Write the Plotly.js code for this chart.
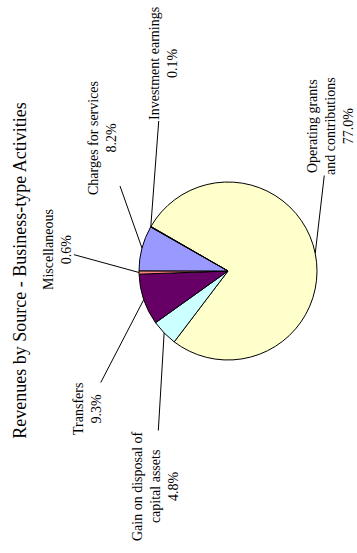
<!DOCTYPE html>
<html>
<head>
<meta charset="utf-8">
<script src="https://cdn.plot.ly/plotly-3.0.1.min.js"></script>
<style>
  html, body { margin: 0; padding: 0; background: #ffffff; overflow: hidden; }
  #wrap { position: absolute; left: 0; top: 0; width: 553px; height: 357px;
          transform-origin: 0 0; transform: translate(0px, 553px) rotate(-90deg); }
</style>
</head>
<body>
<div id="wrap"></div>
<script>
// ---- data ----
const categories = ["Operating grants and contributions", "Gain on disposal of capital assets", "Transfers", "Miscellaneous", "Charges for services", "Investment earnings"];
const displayLabels = ["Operating grants<br>and contributions", "Gain on disposal of<br>capital assets", "Transfers", "Miscellaneous", "Charges for services", "Investment earnings"];
const shares = [77.0, 4.8, 9.3, 0.6, 8.2, 0.1];
const sliceColors = ["#FFFFCC", "#CCFFFF", "#660066", "#FF8080", "#9999FF", "#993366"];
// label centres in the (unrotated) layout, pixels
const labelU = [427, 67, 144, 303, 415, 489];
const labelV = [330, 155, 87, 57, 103, 163];

// ---- layout geometry ----
const W = 553, H = 357;
const cx = 282, cy = 228, r = 89;
const startRotation = 30;

const total = shares.reduce((a, b) => a + b, 0);
const annotations = [];
let cum = 0;
for (let i = 0; i < shares.length; i++) {
  const mid = startRotation + 360 * (cum + shares[i] / 2) / total;
  cum += shares[i];
  const a = mid * Math.PI / 180;
  const tu = cx + r * Math.sin(a);
  const tv = cy - r * Math.cos(a);
  annotations.push({
    xref: 'paper', yref: 'paper',
    x: tu / W, y: 1 - tv / H,
    ax: labelU[i] - tu, ay: labelV[i] - tv,
    axref: 'pixel', ayref: 'pixel',
    text: displayLabels[i] + '<br>' + (shares[i] / total * 100).toFixed(1) + '%',
    showarrow: true, arrowhead: 0, arrowwidth: 1, arrowcolor: '#000000', standoff: 0,
    font: { family: 'Liberation Serif, Times New Roman, serif', size: 14, color: '#000000' },
    align: 'center', borderpad: 0
  });
}

const trace = {
  type: 'pie',
  labels: categories,
  values: shares,
  sort: false,
  direction: 'clockwise',
  rotation: startRotation,
  textinfo: 'none',
  hoverinfo: 'none',
  showlegend: false,
  marker: { colors: sliceColors, line: { color: '#000000', width: 1 } },
  domain: { x: [(cx - r) / W, (cx + r) / W], y: [(H - cy - r) / H, (H - cy + r) / H] }
};

const layout = {
  width: W, height: H,
  margin: { l: 0, r: 0, t: 0, b: 0 },
  paper_bgcolor: '#ffffff',
  title: {
    text: 'Revenues by Source - Business-type Activities',
    font: { family: 'Liberation Serif, Times New Roman, serif', size: 18, color: '#000000' },
    x: 282.5 / W, xanchor: 'center', xref: 'paper',
    y: 1 - 20 / H, yanchor: 'middle', yref: 'container'
  },
  annotations: annotations
};

Plotly.newPlot('wrap', [trace], layout, { displayModeBar: false, staticPlot: true });
</script>
</body>
</html>
